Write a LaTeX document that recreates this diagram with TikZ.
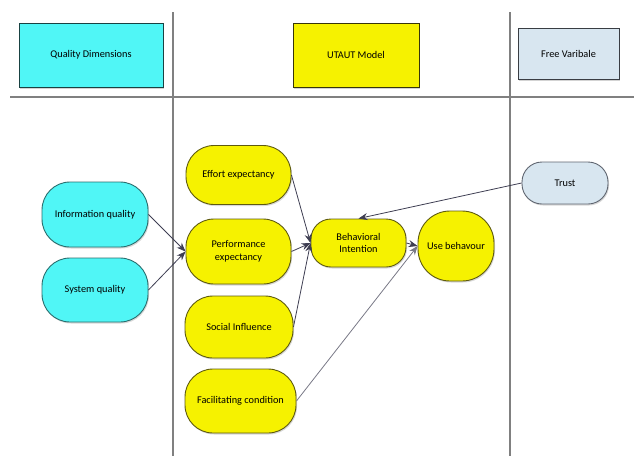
\documentclass[tikz,border=0pt]{standalone}
\usepackage{fontspec}
\setmainfont{Carlito}
\usetikzlibrary{arrows.meta,shadows}
\definecolor{cyanf}{HTML}{50F6F6}
\definecolor{cyanb}{HTML}{2A6E6E}
\definecolor{yelf}{HTML}{F6F200}
\definecolor{yelb}{HTML}{5E5A10}
\definecolor{trustf}{HTML}{D8E6F0}
\definecolor{trustb}{HTML}{5F6570}
\definecolor{arrc}{HTML}{3E3E52}
\definecolor{sepc}{HTML}{808080}
\tikzset{
  txt/.style={font=\fontsize{10.3}{12.5}\selectfont, align=center, inner sep=0pt},
  hdr/.style={txt, draw=#1!60!black, line width=0.9pt, rectangle,
     drop shadow={shadow xshift=1pt, shadow yshift=-1.5pt, opacity=0.35}},
  pill/.style={txt, rectangle, rounded corners=28pt, line width=0.9pt,
     drop shadow={shadow xshift=1pt, shadow yshift=-1.5pt, opacity=0.3}},
  cpill/.style={pill, fill=cyanf, draw=cyanb},
  ypill/.style={pill, fill=yelf, draw=yelb},
  tpill/.style={pill, fill=trustf, draw=trustb, rounded corners=20pt},
  conn/.style={draw=arrc, line width=0.8pt, -{Stealth[length=9pt,width=7pt]}},
  sep/.style={draw=sepc, line width=1.1pt}
}
\begin{document}
\begin{tikzpicture}[x=1pt,y=-1pt]
\useasboundingbox (0,0) rectangle (634,456);
% separators
\coordinate (h1) at (10,97);
\coordinate (h2) at (634,97);
\coordinate (v1a) at (173,12);
\coordinate (v1b) at (173,456);
\coordinate (v2a) at (510,12);
\coordinate (v2b) at (510,456);
\draw[sep, line width=1.6pt] (h1) -- (h2);
\draw[sep] (v1a) -- (v1b);
\draw[sep] (v2a) -- (v2b);
% headers
\node[hdr=cyanb, fill=cyanf, minimum width=144pt, minimum height=64pt] (qd) at (91,55) {Quality Dimensions};
\node[hdr=yelb, fill=yelf, minimum width=126pt, minimum height=64pt] (um) at (356,55) {UTAUT Model};
\node[hdr=trustb, fill=trustf, minimum width=101pt, minimum height=51pt] (fv) at (568.5,53.5) {Free Varibale};
% nodes
\node[cpill, minimum width=106pt, minimum height=65pt] (info) at (95,214.5) {Information quality};
\node[cpill, minimum width=106pt, minimum height=64pt] (sys) at (95,290) {System quality};
\node[ypill, minimum width=105pt, minimum height=59pt] (eff) at (238.5,175) {Effort expectancy};
\node[ypill, minimum width=105pt, minimum height=65pt] (perf) at (238.5,251.5) {Performance\\expectancy};
\node[ypill, minimum width=108pt, minimum height=62pt] (soc) at (239,327) {Social Influence};
\node[ypill, minimum width=111pt, minimum height=64pt] (fac) at (240.5,401) {Facilitating condition};
\node[ypill, minimum width=95pt, minimum height=48pt, rounded corners=20pt] (bi) at (358.5,243) {Behavioral\\Intention};
\node[ypill, minimum width=76pt, minimum height=70pt, rounded corners=32pt] (ub) at (456,246) {Use behavour};
\node[tpill, minimum width=86pt, minimum height=42pt] (trust) at (565,183) {Trust};
% connectors
\draw[conn] (info.east) -- (perf.west);
\draw[conn] (sys.east) -- (perf.west);
\draw[conn] (eff.east) -- (bi.west);
\draw[conn] (perf.east) -- (bi.west);
\draw[conn] (soc.east) -- (bi.west);
\draw[conn] (bi.east) -- (ub.west);
\draw[conn, draw=arrc!70] (fac.east) -- (ub.west);
\draw[conn] (trust.west) -- (bi.north);
\end{tikzpicture}
\end{document}
